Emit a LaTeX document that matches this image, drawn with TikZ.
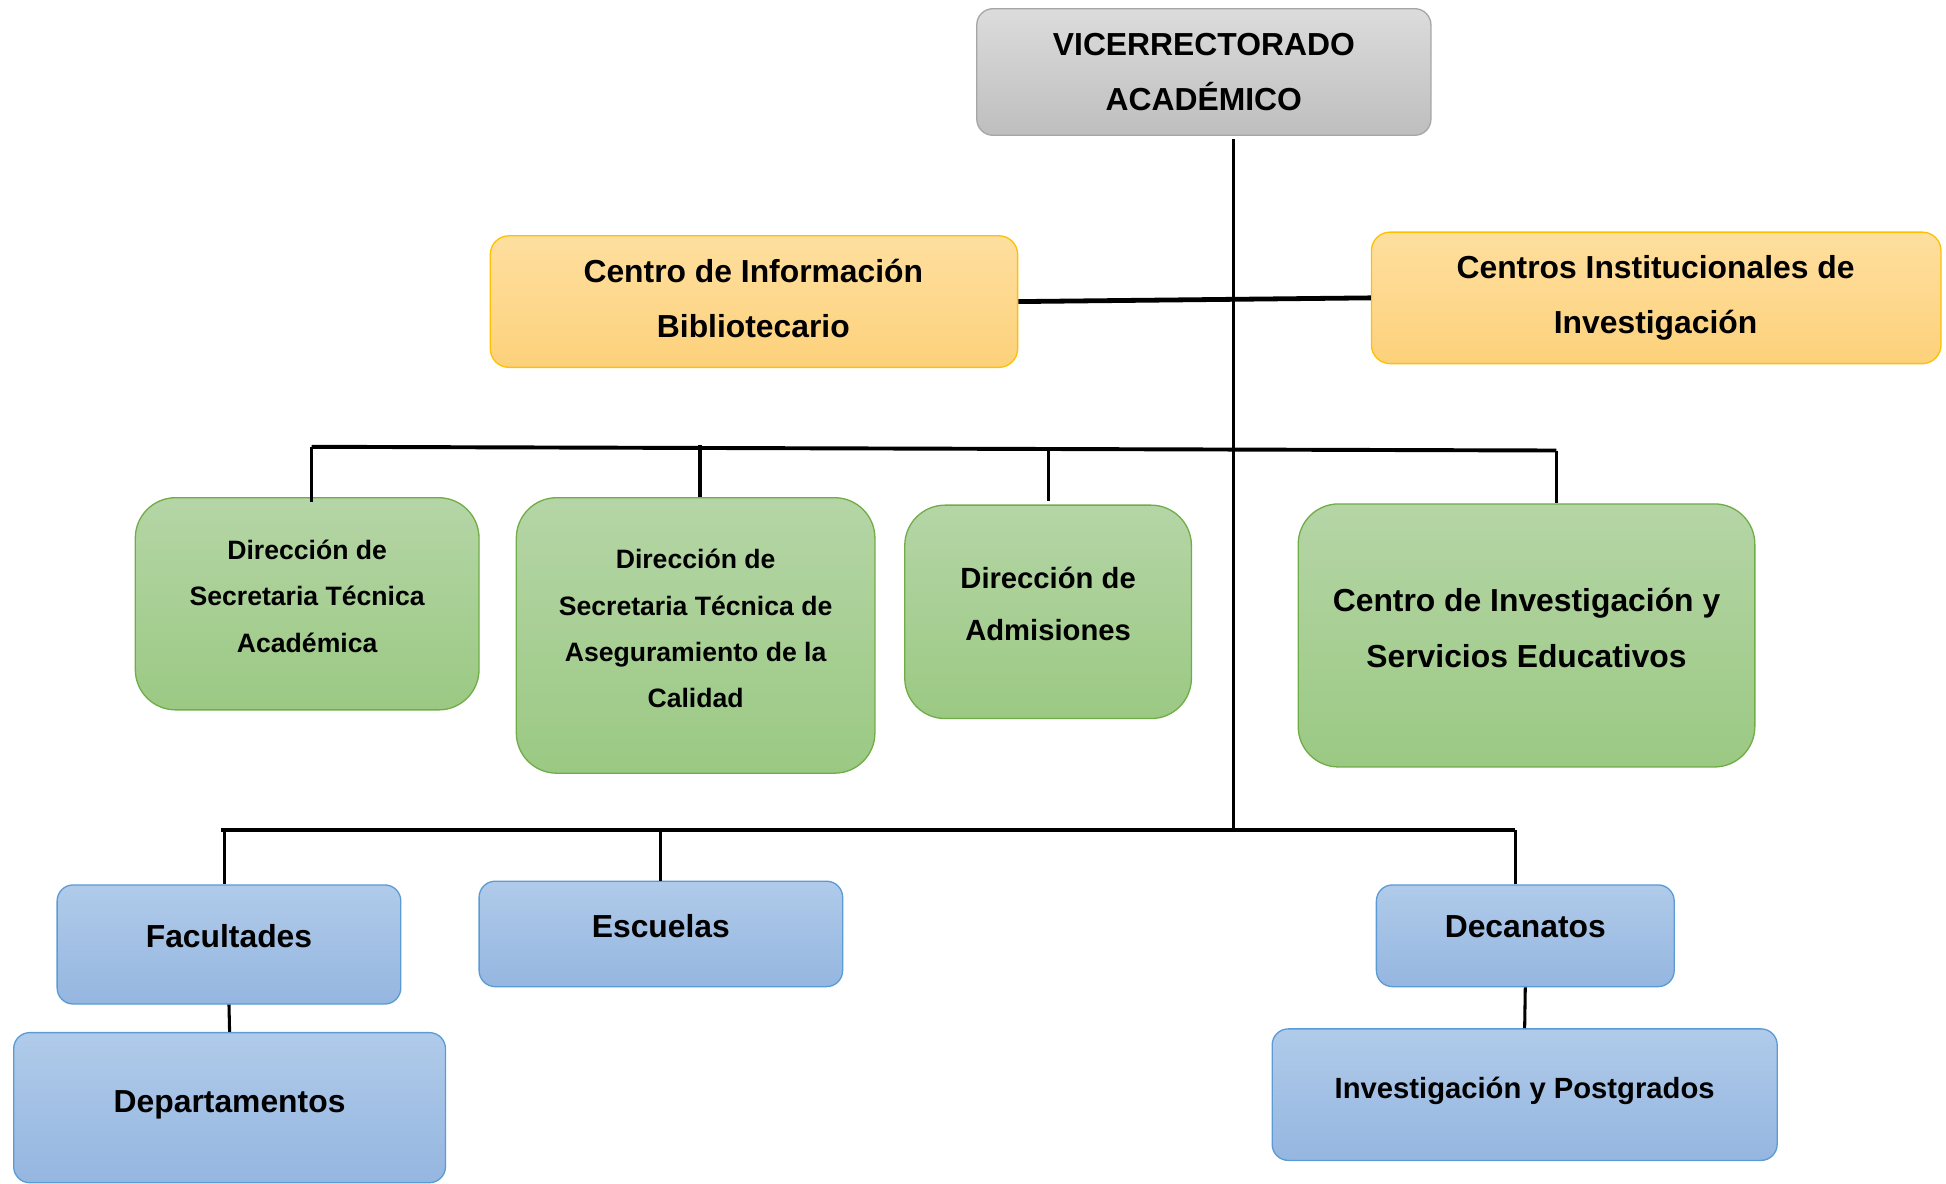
\documentclass[tikz,border=0pt]{standalone}
\usepackage{fontspec}
\setmainfont{Liberation Sans}
\definecolor{grayT}{HTML}{DCDCDC}
\definecolor{grayB}{HTML}{BEBEBE}
\definecolor{grayD}{HTML}{A6A6A6}
\definecolor{orT}{HTML}{FEDF9F}
\definecolor{orB}{HTML}{FDD17B}
\definecolor{orD}{HTML}{FFC000}
\definecolor{grT}{HTML}{B5D5A6}
\definecolor{grB}{HTML}{9BC983}
\definecolor{grD}{HTML}{70AD47}
\definecolor{blT}{HTML}{B0CBEA}
\definecolor{blB}{HTML}{95B6E0}
\definecolor{blD}{HTML}{5B9BD5}
\tikzset{
  boxbase/.style={draw, rectangle, line width=0.6pt, inner sep=0pt},
  graybox/.style={boxbase, rounded corners=0.26cm, draw=grayD, top color=grayT, bottom color=grayB},
  orbox/.style={boxbase, rounded corners=0.3cm, draw=orD, top color=orT, bottom color=orB},
  grbox/.style={boxbase, rounded corners=0.65cm, draw=grD, top color=grT, bottom color=grB},
  blbox/.style={boxbase, rounded corners=0.26cm, draw=blD, top color=blT, bottom color=blB},
  txt/.style={align=center, inner sep=0pt, font=\bfseries},
  fbig/.style={font=\fontsize{14.6}{25}\selectfont\bfseries},
  fsmall/.style={font=\fontsize{12.2}{21.3}\selectfont\bfseries},
  fmid/.style={font=\fontsize{13.4}{23.9}\selectfont\bfseries},
  fbig4/.style={font=\fontsize{14.6}{25.6}\selectfont\bfseries},
  conn/.style={line width=1.4pt},
  bus/.style={line width=1.8pt},
}
\begin{document}
\begin{tikzpicture}[x=0.02cm, y=-0.02cm]
\useasboundingbox (0,0) rectangle (1568,954);
% top
\node[graybox, minimum width=7.32cm, minimum height=2.04cm] (vice) at (970,58) {};
\node[txt, fbig] (vicet) at (970,58) {VICERRECTORADO\\ACADÉMICO};
% orange
\node[orbox, minimum width=8.5cm, minimum height=2.12cm] (cib) at (607.5,243) {};
\node[txt, fbig] (cibt) at (607,240.5) {Centro de Información\\Bibliotecario};
\node[orbox, minimum width=9.18cm, minimum height=2.12cm] (cii) at (1334.5,240) {};
\node[txt, fbig] (ciit) at (1334,240) {Centros Institucionales de\\Investigación};
% green
\node[grbox, minimum width=5.54cm, minimum height=3.42cm] (g1) at (247.5,486.5) {};
\node[txt, fsmall] (g1t) at (247.5,480.5) {Dirección de\\Secretaria Técnica\\Académica};
\node[grbox, minimum width=5.78cm, minimum height=4.44cm] (g2) at (560.5,512) {};
\node[txt, fsmall] (g2t) at (560.5,506.5) {Dirección de\\Secretaria Técnica de\\Aseguramiento de la\\Calidad};
\node[grbox, minimum width=4.62cm, minimum height=3.44cm] (g3) at (844.5,493) {};
\node[txt, fmid] (g3t) at (844.5,486.5) {Dirección de\\Admisiones};
\node[grbox, minimum width=7.36cm, minimum height=4.24cm] (g4) at (1230,512) {};
\node[txt, fbig4] (g4t) at (1230,506) {Centro de Investigación y\\Servicios Educativos};
% blue
\node[blbox, minimum width=5.54cm, minimum height=1.92cm] (fac) at (184.5,761) {};
\node[txt, fbig] (fact) at (184.5,754) {Facultades};
\node[blbox, minimum width=5.86cm, minimum height=1.7cm] (esc) at (532.5,752.5) {};
\node[txt, fbig] (esct) at (532.5,746) {Escuelas};
\node[blbox, minimum width=4.8cm, minimum height=1.64cm] (dec) at (1229,754) {};
\node[txt, fbig] (dect) at (1229,747) {Decanatos};
\node[blbox, minimum width=6.96cm, minimum height=2.42cm] (dep) at (185,892.5) {};
\node[txt, fbig] (dept) at (185,890) {Departamentos};
\node[blbox, minimum width=8.14cm, minimum height=2.12cm] (inv) at (1228.5,882) {};
\node[txt, fmid] (invt) at (1228.5,879) {Investigación y Postgrados};
% connectors
\coordinate (trTop) at (994,112);
\coordinate (trBot) at (994,669);
\draw[conn] (trTop) -- (trBot);
\draw[line width=2.2pt] (cib.east) -- (cii.west);
\coordinate (gbL) at (251,360);
\coordinate (gbR) at (1254,363);
\draw[bus] (gbL) -- (gbR);
\coordinate (gd2) at (564,358.5);
\coordinate (gd3) at (845,362);
\draw[conn] (gbL) -- ([yshift=-0.08cm]gbL |- g1.north);
\draw[conn] (gd2) -- (gd2 |- g2.north);
\draw[conn] (gd3) -- ([yshift=0.06cm]gd3 |- g3.north);
\draw[conn] (gbR) -- (gbR |- g4.north);
\coordinate (bbL) at (178,669);
\coordinate (bbR) at (1221,669);
\draw[bus] (bbL) -- (bbR);
\coordinate (bd1) at (181,669);
\coordinate (bd2) at (532,669);
\draw[conn] (bd1) -- (bd1 |- fac.north);
\draw[conn] (bd2) -- (bd2 |- esc.north);
\draw[conn] (bbR) -- (bbR |- dec.north);
\draw[conn] (fac.south) -- (dep.north);
\draw[conn] (dec.south) -- (inv.north);
\end{tikzpicture}
\end{document}
